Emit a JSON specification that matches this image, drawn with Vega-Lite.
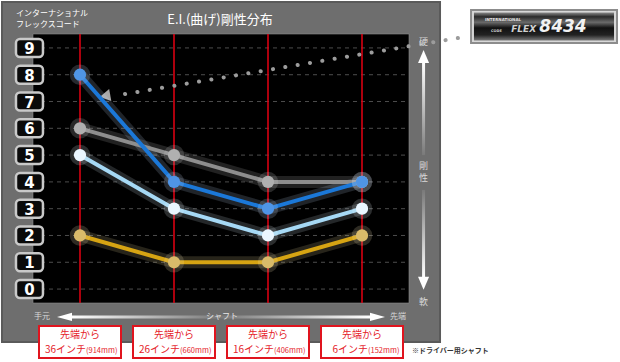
{
  "$schema": "https://vega.github.io/schema/vega-lite/v6.json",
  "width": 376,
  "height": 269,
  "autosize": {"type": "none"},
  "padding": {"left": 33, "top": 34, "right": 211, "bottom": 59},
  "background": "white",
  "config": {
    "view": {"stroke": null},
    "axis": {"disable": true},
    "legend": {"disable": true},
    "font": "Noto Sans CJK JP"
  },
  "datasets": {
    "series": [
      {"code": "6544", "pos": 1, "flex": 6}, {"code": "6544", "pos": 2, "flex": 5}, {"code": "6544", "pos": 3, "flex": 4}, {"code": "6544", "pos": 4, "flex": 4},
      {"code": "5323", "pos": 1, "flex": 5}, {"code": "5323", "pos": 2, "flex": 3}, {"code": "5323", "pos": 3, "flex": 2}, {"code": "5323", "pos": 4, "flex": 3},
      {"code": "2112", "pos": 1, "flex": 2}, {"code": "2112", "pos": 2, "flex": 1}, {"code": "2112", "pos": 3, "flex": 1}, {"code": "2112", "pos": 4, "flex": 2},
      {"code": "8434", "pos": 1, "flex": 8}, {"code": "8434", "pos": 2, "flex": 4}, {"code": "8434", "pos": 3, "flex": 3}, {"code": "8434", "pos": 4, "flex": 4}
    ],
    "positions": [
      {"pos": 1, "head": "先端から", "inch": "36インチ", "mm": "(914mm)"},
      {"pos": 2, "head": "先端から", "inch": "26インチ", "mm": "(660mm)"},
      {"pos": 3, "head": "先端から", "inch": "16インチ", "mm": "(406mm)"},
      {"pos": 4, "head": "先端から", "inch": "6インチ", "mm": "(152mm)"}
    ],
    "levels": [
      {"level": 0}, {"level": 1}, {"level": 2}, {"level": 3}, {"level": 4},
      {"level": 5}, {"level": 6}, {"level": 7}, {"level": 8}, {"level": 9}
    ]
  },
  "resolve": {"scale": {"color": "independent"}},
  "layer": [
    {
      "data": {"values": [{}]},
      "mark": {"type": "rect", "fill": "#6e6e6e", "stroke": "#5a5a5a", "strokeWidth": 2},
      "encoding": {
        "x": {"datum": 0.17, "scale": {"domain": [0.5, 4.5], "nice": false, "zero": false}},
        "x2": {"datum": 4.83},
        "y": {"datum": 10.71, "scale": {"domain": [-0.52, 9.52], "nice": false, "zero": false}},
        "y2": {"datum": -1.975}
      }
    },
    {
      "data": {"values": [{}]},
      "mark": {"type": "rect", "fill": "#000000", "stroke": "#8a8a8a", "strokeWidth": 0.6},
      "encoding": {
        "x": {"datum": 0.5, "scale": {"domain": [0.5, 4.5], "nice": false, "zero": false}},
        "x2": {"datum": 4.5},
        "y": {"datum": 9.52, "scale": {"domain": [-0.52, 9.52], "nice": false, "zero": false}},
        "y2": {"datum": -0.52}
      }
    },
    {
      "data": {"name": "levels"},
      "mark": {"type": "rule", "color": "#4d4d4d", "strokeWidth": 1, "strokeDash": [4, 4]},
      "encoding": {
        "x": {"datum": 0.5, "scale": {"domain": [0.5, 4.5], "nice": false, "zero": false}},
        "x2": {"datum": 4.5},
        "y": {"field": "level", "type": "quantitative", "scale": {"domain": [-0.52, 9.52], "nice": false, "zero": false}}
      }
    },
    {
      "data": {"name": "positions"},
      "mark": {"type": "rule", "color": "#e60012", "strokeWidth": 1.5},
      "encoding": {
        "x": {"field": "pos", "type": "quantitative", "scale": {"domain": [0.5, 4.5], "nice": false, "zero": false}},
        "y": {"datum": 9.52, "scale": {"domain": [-0.52, 9.52], "nice": false, "zero": false}},
        "y2": {"datum": -0.52}
      }
    },
    {
      "data": {"values": [{}]},
      "mark": {"type": "rule", "color": "#9c9c9c", "strokeWidth": 4, "strokeCap": "round", "strokeDash": [0.1, 12.4]},
      "encoding": {
        "x": {"datum": 1.479, "scale": {"domain": [0.5, 4.5], "nice": false, "zero": false}},
        "x2": {"datum": 5.149},
        "y": {"datum": 7.28, "scale": {"domain": [-0.52, 9.52], "nice": false, "zero": false}},
        "y2": {"datum": 9.445}
      }
    },
    {
      "data": {"values": [{}]},
      "mark": {"type": "point", "shape": "triangle-left", "filled": true, "size": 150, "angle": 350, "color": "#a8a8a8", "opacity": 1},
      "encoding": {
        "x": {"datum": 1.266, "scale": {"domain": [0.5, 4.5], "nice": false, "zero": false}},
        "y": {"datum": 7.206, "scale": {"domain": [-0.52, 9.52], "nice": false, "zero": false}}
      }
    },
    {
      "data": {"name": "series"},
      "mark": {"type": "line", "strokeWidth": 12, "opacity": 0.16, "strokeCap": "round", "strokeJoin": "round"},
      "encoding": {
        "x": {"field": "pos", "type": "quantitative", "scale": {"domain": [0.5, 4.5], "nice": false, "zero": false}},
        "y": {"field": "flex", "type": "quantitative", "scale": {"domain": [-0.52, 9.52], "nice": false, "zero": false}},
        "color": {"field": "code", "type": "nominal", "scale": {"domain": ["6544", "5323", "2112", "8434"], "range": ["#d0d0d0", "#e0f4ff", "#f5e0a0", "#c8e0ff"]}}
      }
    },
    {
      "data": {"name": "series"},
      "mark": {"type": "line", "strokeWidth": 4, "strokeJoin": "round"},
      "encoding": {
        "x": {"field": "pos", "type": "quantitative", "scale": {"domain": [0.5, 4.5], "nice": false, "zero": false}},
        "y": {"field": "flex", "type": "quantitative", "scale": {"domain": [-0.52, 9.52], "nice": false, "zero": false}},
        "color": {"field": "code", "type": "nominal", "scale": {"domain": ["6544", "5323", "2112", "8434"], "range": ["#8e8e8e", "#a6d9f5", "#d6a413", "#1b78d8"]}}
      }
    },
    {
      "data": {"name": "series"},
      "mark": {"type": "point", "filled": true, "size": 420, "opacity": 0.18},
      "encoding": {
        "x": {"field": "pos", "type": "quantitative", "scale": {"domain": [0.5, 4.5], "nice": false, "zero": false}},
        "y": {"field": "flex", "type": "quantitative", "scale": {"domain": [-0.52, 9.52], "nice": false, "zero": false}},
        "color": {"field": "code", "type": "nominal", "scale": {"domain": ["6544", "5323", "2112", "8434"], "range": ["#e0e0e0", "#f0faff", "#faeabb", "#d0e6ff"]}}
      }
    },
    {
      "data": {"name": "series"},
      "mark": {"type": "point", "filled": true, "size": 150, "opacity": 1},
      "encoding": {
        "x": {"field": "pos", "type": "quantitative", "scale": {"domain": [0.5, 4.5], "nice": false, "zero": false}},
        "y": {"field": "flex", "type": "quantitative", "scale": {"domain": [-0.52, 9.52], "nice": false, "zero": false}},
        "color": {"field": "code", "type": "nominal", "scale": {"domain": ["6544", "5323", "2112", "8434"], "range": ["#b0b0b0", "#eaf6ff", "#d9bb6a", "#4f95e6"]}}
      }
    },
    {
      "data": {"name": "levels"},
      "mark": {"type": "rect", "fill": "#0a0a0a", "stroke": "#c9c9c9", "strokeWidth": 2.5, "cornerRadius": 4, "yOffset": -9, "y2Offset": 9},
      "encoding": {
        "x": {"datum": 0.319, "scale": {"domain": [0.5, 4.5], "nice": false, "zero": false}},
        "x2": {"datum": 0.606},
        "y": {"field": "level", "type": "quantitative", "scale": {"domain": [-0.52, 9.52], "nice": false, "zero": false}},
        "y2": {"field": "level"}
      }
    },
    {
      "data": {"name": "levels"},
      "mark": {"type": "text", "color": "#ffffff", "fontSize": 15, "fontWeight": "bold", "font": "DejaVu Sans", "align": "center", "baseline": "middle", "dy": 1},
      "encoding": {
        "x": {"datum": 0.4625, "scale": {"domain": [0.5, 4.5], "nice": false, "zero": false}},
        "y": {"field": "level", "type": "quantitative", "scale": {"domain": [-0.52, 9.52], "nice": false, "zero": false}},
        "text": {"field": "level", "type": "quantitative"}
      }
    },
    {
      "data": {"name": "positions"},
      "mark": {"type": "rect", "fill": "#ffffff", "stroke": "#e0141e", "strokeWidth": 2, "xOffset": -41, "x2Offset": 41},
      "encoding": {
        "x": {"field": "pos", "type": "quantitative", "scale": {"domain": [0.5, 4.5], "nice": false, "zero": false}},
        "x2": {"field": "pos"},
        "y": {"datum": -1.378, "scale": {"domain": [-0.52, 9.52], "nice": false, "zero": false}},
        "y2": {"datum": -2.573}
      }
    },
    {
      "data": {"name": "positions"},
      "mark": {"type": "text", "color": "#e5222a", "fontSize": 10, "align": "center", "baseline": "middle"},
      "encoding": {
        "x": {"field": "pos", "type": "quantitative", "scale": {"domain": [0.5, 4.5], "nice": false, "zero": false}},
        "y": {"datum": -1.714, "scale": {"domain": [-0.52, 9.52], "nice": false, "zero": false}},
        "text": {"field": "head"}
      }
    },
    {
      "data": {"name": "positions"},
      "mark": {"type": "text", "color": "#e5222a", "fontSize": 10, "align": "right", "baseline": "middle", "dx": 6},
      "encoding": {
        "x": {"field": "pos", "type": "quantitative", "scale": {"domain": [0.5, 4.5], "nice": false, "zero": false}},
        "y": {"datum": -2.274, "scale": {"domain": [-0.52, 9.52], "nice": false, "zero": false}},
        "text": {"field": "inch"}
      }
    },
    {
      "data": {"name": "positions"},
      "mark": {"type": "text", "color": "#e5222a", "fontSize": 7.5, "align": "left", "baseline": "middle", "dx": 6, "dy": 1},
      "encoding": {
        "x": {"field": "pos", "type": "quantitative", "scale": {"domain": [0.5, 4.5], "nice": false, "zero": false}},
        "y": {"datum": -2.274, "scale": {"domain": [-0.52, 9.52], "nice": false, "zero": false}},
        "text": {"field": "mm"}
      }
    },
    {
      "data": {"values": [{}]},
      "mark": {"type": "rect", "xOffset": -1.5, "x2Offset": 1.5, "fill": {"gradient": "linear", "x1": 0, "y1": 0, "x2": 0, "y2": 1, "stops": [{"offset": 0, "color": "#ffffff"}, {"offset": 1, "color": "#7a7a7a"}]}},
      "encoding": {
        "x": {"datum": 4.655, "scale": {"domain": [0.5, 4.5], "nice": false, "zero": false}},
        "x2": {"datum": 4.655},
        "y": {"datum": 8.44, "scale": {"domain": [-0.52, 9.52], "nice": false, "zero": false}},
        "y2": {"datum": 5.0}
      }
    },
    {
      "data": {"values": [{}]},
      "mark": {"type": "rect", "xOffset": -1.5, "x2Offset": 1.5, "fill": {"gradient": "linear", "x1": 0, "y1": 0, "x2": 0, "y2": 1, "stops": [{"offset": 0, "color": "#7a7a7a"}, {"offset": 1, "color": "#ffffff"}]}},
      "encoding": {
        "x": {"datum": 4.655, "scale": {"domain": [0.5, 4.5], "nice": false, "zero": false}},
        "x2": {"datum": 4.655},
        "y": {"datum": 3.7, "scale": {"domain": [-0.52, 9.52], "nice": false, "zero": false}},
        "y2": {"datum": 0.45}
      }
    },
    {
      "data": {"values": [{}]},
      "mark": {"type": "point", "shape": "M0,-1L-0.85,1L0.85,1Z", "filled": true, "size": 169, "color": "#ffffff", "opacity": 1},
      "encoding": {
        "x": {"datum": 4.655, "scale": {"domain": [0.5, 4.5], "nice": false, "zero": false}},
        "y": {"datum": 8.68, "scale": {"domain": [-0.52, 9.52], "nice": false, "zero": false}}
      }
    },
    {
      "data": {"values": [{}]},
      "mark": {"type": "point", "shape": "M0,1L-0.85,-1L0.85,-1Z", "filled": true, "size": 169, "color": "#ffffff", "opacity": 1},
      "encoding": {
        "x": {"datum": 4.655, "scale": {"domain": [0.5, 4.5], "nice": false, "zero": false}},
        "y": {"datum": 0.215, "scale": {"domain": [-0.52, 9.52], "nice": false, "zero": false}}
      }
    },
    {
      "data": {"values": [{}]},
      "mark": {"type": "rect", "yOffset": -1.5, "y2Offset": 1.5, "fill": {"gradient": "linear", "x1": 0, "y1": 0, "x2": 1, "y2": 0, "stops": [{"offset": 0, "color": "#ffffff"}, {"offset": 0.5, "color": "#7a7a7a"}, {"offset": 1, "color": "#ffffff"}]}},
      "encoding": {
        "x": {"datum": 0.9, "scale": {"domain": [0.5, 4.5], "nice": false, "zero": false}},
        "x2": {"datum": 4.09},
        "y": {"datum": -1.042, "scale": {"domain": [-0.52, 9.52], "nice": false, "zero": false}},
        "y2": {"datum": -1.042}
      }
    },
    {
      "data": {"values": [{}]},
      "mark": {"type": "point", "shape": "M-1,0L1,-0.55L1,0.55Z", "filled": true, "size": 225, "color": "#ffffff", "opacity": 1},
      "encoding": {
        "x": {"datum": 0.835, "scale": {"domain": [0.5, 4.5], "nice": false, "zero": false}},
        "y": {"datum": -1.042, "scale": {"domain": [-0.52, 9.52], "nice": false, "zero": false}}
      }
    },
    {
      "data": {"values": [{}]},
      "mark": {"type": "point", "shape": "M1,0L-1,-0.55L-1,0.55Z", "filled": true, "size": 225, "color": "#ffffff", "opacity": 1},
      "encoding": {
        "x": {"datum": 4.165, "scale": {"domain": [0.5, 4.5], "nice": false, "zero": false}},
        "y": {"datum": -1.042, "scale": {"domain": [-0.52, 9.52], "nice": false, "zero": false}}
      }
    },
    {
      "data": {"values": [{}]},
      "mark": {"type": "text", "text": "硬", "color": "#d8d8d8", "fontSize": 9, "align": "center", "baseline": "middle"},
      "encoding": {
        "x": {"datum": 4.655, "scale": {"domain": [0.5, 4.5], "nice": false, "zero": false}},
        "y": {"datum": 9.22, "scale": {"domain": [-0.52, 9.52], "nice": false, "zero": false}}
      }
    },
    {
      "data": {"values": [{}]},
      "mark": {"type": "text", "text": "剛", "color": "#d8d8d8", "fontSize": 9, "align": "center", "baseline": "middle"},
      "encoding": {
        "x": {"datum": 4.655, "scale": {"domain": [0.5, 4.5], "nice": false, "zero": false}},
        "y": {"datum": 4.593, "scale": {"domain": [-0.52, 9.52], "nice": false, "zero": false}}
      }
    },
    {
      "data": {"values": [{}]},
      "mark": {"type": "text", "text": "性", "color": "#d8d8d8", "fontSize": 9, "align": "center", "baseline": "middle"},
      "encoding": {
        "x": {"datum": 4.655, "scale": {"domain": [0.5, 4.5], "nice": false, "zero": false}},
        "y": {"datum": 4.145, "scale": {"domain": [-0.52, 9.52], "nice": false, "zero": false}}
      }
    },
    {
      "data": {"values": [{}]},
      "mark": {"type": "text", "text": "軟", "color": "#d8d8d8", "fontSize": 9, "align": "center", "baseline": "middle"},
      "encoding": {
        "x": {"datum": 4.655, "scale": {"domain": [0.5, 4.5], "nice": false, "zero": false}},
        "y": {"datum": -0.483, "scale": {"domain": [-0.52, 9.52], "nice": false, "zero": false}}
      }
    },
    {
      "data": {"values": [{}]},
      "mark": {"type": "text", "text": "手元", "color": "#d8d8d8", "fontSize": 8, "align": "center", "baseline": "middle"},
      "encoding": {
        "x": {"datum": 0.596, "scale": {"domain": [0.5, 4.5], "nice": false, "zero": false}},
        "y": {"datum": -1.042, "scale": {"domain": [-0.52, 9.52], "nice": false, "zero": false}}
      }
    },
    {
      "data": {"values": [{}]},
      "mark": {"type": "text", "text": "シャフト", "color": "#e8e8e8", "fontSize": 8, "align": "center", "baseline": "middle"},
      "encoding": {
        "x": {"datum": 2.511, "scale": {"domain": [0.5, 4.5], "nice": false, "zero": false}},
        "y": {"datum": -1.042, "scale": {"domain": [-0.52, 9.52], "nice": false, "zero": false}}
      }
    },
    {
      "data": {"values": [{}]},
      "mark": {"type": "text", "text": "先端", "color": "#d8d8d8", "fontSize": 8, "align": "center", "baseline": "middle"},
      "encoding": {
        "x": {"datum": 4.383, "scale": {"domain": [0.5, 4.5], "nice": false, "zero": false}},
        "y": {"datum": -1.042, "scale": {"domain": [-0.52, 9.52], "nice": false, "zero": false}}
      }
    },
    {
      "data": {"values": [{}]},
      "mark": {"type": "text", "text": "E.I.(曲げ)剛性分布", "color": "#ffffff", "fontSize": 13, "align": "center", "baseline": "middle"},
      "encoding": {
        "x": {"datum": 2.489, "scale": {"domain": [0.5, 4.5], "nice": false, "zero": false}},
        "y": {"datum": 10.043, "scale": {"domain": [-0.52, 9.52], "nice": false, "zero": false}}
      }
    },
    {
      "data": {"values": [{}]},
      "mark": {"type": "text", "text": "インターナショナル", "color": "#ffffff", "fontSize": 8, "align": "left", "baseline": "middle"},
      "encoding": {
        "x": {"datum": 0.319, "scale": {"domain": [0.5, 4.5], "nice": false, "zero": false}},
        "y": {"datum": 10.266, "scale": {"domain": [-0.52, 9.52], "nice": false, "zero": false}}
      }
    },
    {
      "data": {"values": [{}]},
      "mark": {"type": "text", "text": "フレックスコード", "color": "#ffffff", "fontSize": 8, "align": "left", "baseline": "middle"},
      "encoding": {
        "x": {"datum": 0.319, "scale": {"domain": [0.5, 4.5], "nice": false, "zero": false}},
        "y": {"datum": 9.856, "scale": {"domain": [-0.52, 9.52], "nice": false, "zero": false}}
      }
    },
    {
      "data": {"values": [{}]},
      "mark": {"type": "text", "text": "※ドライバー用シャフト", "color": "#333333", "fontSize": 7, "fontWeight": "bold", "align": "left", "baseline": "middle"},
      "encoding": {
        "x": {"datum": 4.532, "scale": {"domain": [0.5, 4.5], "nice": false, "zero": false}},
        "y": {"datum": -2.311, "scale": {"domain": [-0.52, 9.52], "nice": false, "zero": false}}
      }
    },
    {
      "data": {"values": [{}]},
      "mark": {"type": "rect", "fill": "#d8d8d8", "stroke": "#8c8c8c", "strokeWidth": 2},
      "encoding": {
        "x": {"datum": 5.16, "scale": {"domain": [0.5, 4.5], "nice": false, "zero": false}},
        "x2": {"datum": 6.713},
        "y": {"datum": 10.416, "scale": {"domain": [-0.52, 9.52], "nice": false, "zero": false}},
        "y2": {"datum": 9.184}
      }
    },
    {
      "data": {"values": [{}]},
      "mark": {"type": "rect", "fill": {"gradient": "linear", "x1": 0, "y1": 0, "x2": 0, "y2": 1, "stops": [{"offset": 0, "color": "#8a8a8a"}, {"offset": 0.15, "color": "#2a2a2a"}, {"offset": 0.35, "color": "#6a6a6a"}, {"offset": 0.55, "color": "#111111"}, {"offset": 0.8, "color": "#222222"}, {"offset": 1, "color": "#7a7a7a"}]}},
      "encoding": {
        "x": {"datum": 5.191, "scale": {"domain": [0.5, 4.5], "nice": false, "zero": false}},
        "x2": {"datum": 6.681},
        "y": {"datum": 10.322, "scale": {"domain": [-0.52, 9.52], "nice": false, "zero": false}},
        "y2": {"datum": 9.277}
      }
    },
    {
      "data": {"values": [{}]},
      "mark": {"type": "text", "text": "INTERNATIONAL", "color": "#e0e0e0", "fontSize": 4, "fontWeight": "bold", "font": "DejaVu Sans", "align": "center", "baseline": "middle"},
      "encoding": {
        "x": {"datum": 5.5, "scale": {"domain": [0.5, 4.5], "nice": false, "zero": false}},
        "y": {"datum": 10.06, "scale": {"domain": [-0.52, 9.52], "nice": false, "zero": false}}
      }
    },
    {
      "data": {"values": [{}]},
      "mark": {"type": "text", "text": "FLEX", "color": "#d0d0d0", "fontSize": 9, "fontWeight": "bold", "fontStyle": "italic", "font": "DejaVu Sans", "align": "center", "baseline": "middle"},
      "encoding": {
        "x": {"datum": 5.72, "scale": {"domain": [0.5, 4.5], "nice": false, "zero": false}},
        "y": {"datum": 9.7, "scale": {"domain": [-0.52, 9.52], "nice": false, "zero": false}}
      }
    },
    {
      "data": {"values": [{}]},
      "mark": {"type": "text", "text": "CODE", "color": "#cfcfcf", "fontSize": 3.5, "fontWeight": "bold", "font": "DejaVu Sans", "align": "center", "baseline": "middle"},
      "encoding": {
        "x": {"datum": 5.43, "scale": {"domain": [0.5, 4.5], "nice": false, "zero": false}},
        "y": {"datum": 9.62, "scale": {"domain": [-0.52, 9.52], "nice": false, "zero": false}}
      }
    },
    {
      "data": {"values": [{}]},
      "mark": {"type": "text", "text": "8434", "color": "#f2f2f2", "fontSize": 17, "fontWeight": "bold", "fontStyle": "italic", "font": "DejaVu Sans", "align": "center", "baseline": "middle"},
      "encoding": {
        "x": {"datum": 6.138, "scale": {"domain": [0.5, 4.5], "nice": false, "zero": false}},
        "y": {"datum": 9.763, "scale": {"domain": [-0.52, 9.52], "nice": false, "zero": false}}
      }
    }
  ]
}
